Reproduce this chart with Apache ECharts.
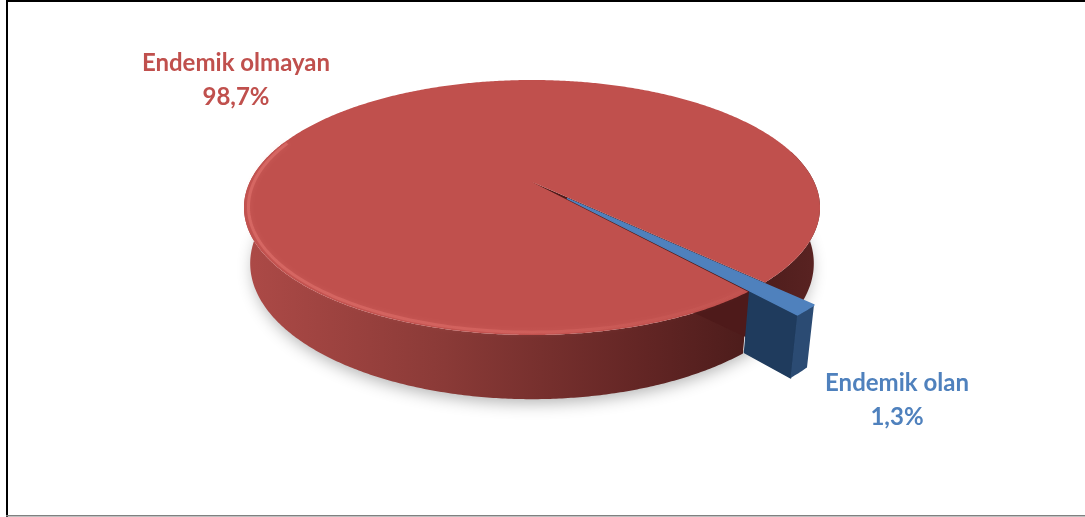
<!DOCTYPE html>
<html><head><meta charset="utf-8">
<script src="https://cdn.jsdelivr.net/npm/echarts@6/dist/echarts.min.js"></script>
<style>html,body{margin:0;padding:0;background:#fff}#c{width:1085px;height:517px}</style>
</head><body><div id="c"></div>
<script>
// ---- data ----
const categories = ['Endemik olan', 'Endemik olmayan'];
const values = [1.3, 98.7];
const topColors = ['#4f81bd', '#c0504d'];

// ---- 3D projection parameters (layout) ----
const G = {cx: 532, cy: 182, A: 282.2, B: 122.4, k: 0.2, h: 0.22, explode: [0.18, 0], start: 134.8};
const sA = G.B / G.A, cA = Math.sqrt(1 - sA * sA), Ld = cA / G.k;
function proj(x, y, z) {
  const dn = 1 - y * sA / Ld - z * G.k;
  return [G.cx + G.A * x / dn, G.cy + (G.B * z - G.A * cA * y) / dn];
}
function pt(deg, r, off, y) {
  const t = deg * Math.PI / 180;
  return proj(off[0] + r * Math.sin(t), y, off[1] - r * Math.cos(t));
}
const total = values.reduce((a, b) => a + b, 0);

const sideGrad = new echarts.graphic.LinearGradient(243, 0, 820, 0, [
  {offset: 0, color: '#ad4a47'}, {offset: 0.35, color: '#8a3a37'},
  {offset: 0.7, color: '#622524'}, {offset: 0.88, color: '#4c1c1b'}, {offset: 1, color: '#5a2322'}
], true);
const rimGrad = new echarts.graphic.LinearGradient(243, 0, 820, 0, [
  {offset: 0, color: 'rgba(228,118,113,0.55)'}, {offset: 0.45, color: 'rgba(226,112,107,0.45)'},
  {offset: 1, color: 'rgba(200,90,85,0.05)'}
], true);

// front-facing parts of the outer side, split into contiguous visible pieces
function bands(a, b, off, h, step) {
  const out = [];
  for (let base = -360; base <= 360; base += 360) {
    const lo = Math.max(a, 75 + base), hi = Math.min(b, 290 + base);
    if (hi <= lo) continue;
    const top = [], bot = [];
    for (let t = lo; t < hi; t += step) { top.push(pt(t, 1, off, 0)); bot.push(pt(t, 1, off, -h)); }
    top.push(pt(hi, 1, off, 0)); bot.push(pt(hi, 1, off, -h));
    out.push(top.concat(bot.reverse()));
  }
  return out;
}

function renderItem(params, api) {
  const i = params.dataIndex;
  let before = 0;
  for (let j = 0; j < i; j++) before += values[j];
  const a = G.start + before / total * 360;
  const b = a + api.value(0) / total * 360;
  const mid = (a + b) / 2;
  const e = G.explode[i];
  const off = [e * Math.sin(mid * Math.PI / 180), -e * Math.cos(mid * Math.PI / 180)];
  const h = G.h;
  const children = [];
  const step = 0.5;
  const arc = (r, y) => { const p = []; for (let t = a; t < b; t += step) p.push(pt(t, r, off, y)); p.push(pt(b, r, off, y)); return p; };

  const dark = i === 0;
  bands(a, b, off, h, step).forEach(p => children.push({type: 'polygon', z2: dark ? 6 : 1, silent: true,
    shape: {points: p}, style: {fill: dark ? '#2b4b73' : sideGrad}}));
  if (i === 1) {
    // soft shadow under pie
    const ring = []; for (let t = 0; t < 360; t += 2) ring.push(pt(t, 0.99, [0, 0], -h));
    children.push({type: 'polygon', z2: 0, silent: true, shape: {points: ring},
      style: {fill: '#fff', shadowBlur: 16, shadowColor: 'rgba(0,0,0,0.3)', shadowOffsetY: 6}});
    // end radial face, visible in the gap
    children.push({type: 'polygon', z2: 2, silent: true,
      shape: {points: [pt(b, 0, off, 0), pt(b, 1, off, 0), pt(b, 1, off, -h), pt(b, 0, off, -h)]},
      style: {fill: '#4e1a1a'}});
    // rim highlight on front edge (bevel)
    const hl = []; for (let t = 140; t <= 290; t += 1) hl.push(pt(t, 0.985, off, 0));
    children.push({type: 'polyline', z2: 4, silent: true, shape: {points: hl},
      style: {stroke: rimGrad, lineWidth: 3, fill: null, shadowBlur: 5, shadowColor: 'rgba(230,120,115,0.5)'}});
  } else {
    // visible end radial face of the exploded slice
    const phi = (b - mid) * Math.PI / 180;
    const t0 = -e * Math.cos(phi) + Math.sqrt(1 - e * e * Math.sin(phi) * Math.sin(phi));
    children.push({type: 'polygon', z2: 5, silent: true,
      shape: {points: [pt(b, t0, off, 0), pt(b, 1, off, 0), pt(b, 1, off, -h), pt(b, t0, off, -h)]},
      style: {fill: '#1f3b5d', stroke: '#1f3b5d', lineWidth: 1.5, lineJoin: 'round'}});
  }
  // top face
  const topPts = [pt(a, 0, off, 0)].concat(arc(1, 0));
  children.push({type: 'polygon', z2: dark ? 7 : 3, silent: true, shape: {points: topPts},
    style: {fill: topColors[i], stroke: dark ? '#4f81bd' : null, lineWidth: dark ? 1.5 : 0, lineJoin: 'round'}});
  return {type: 'group', children};
}

function fmt(v) { return v.toFixed(1).replace('.', ',') + '%'; }
const labelFont = {fontFamily: 'Lato', fontWeight: 'bold', fontSize: 24, lineHeight: 34, align: 'center', verticalAlign: 'middle'};

const chart = echarts.init(document.getElementById('c'), null, {renderer: 'canvas'});
chart.setOption({
  animation: false,
  backgroundColor: '#fff',
  series: [{type: 'custom', coordinateSystem: 'none', renderItem, data: values.map(v => [v]), silent: true}],
  graphic: [
    {type: 'text', x: 236, y: 80, style: Object.assign({text: categories[1] + '\n' + fmt(values[1]), fill: '#c0504d'}, labelFont)},
    {type: 'text', x: 897, y: 400, style: Object.assign({text: categories[0] + '\n' + fmt(values[0]), fill: '#4f81bd'}, labelFont)},
    {type: 'rect', shape: {x: 6, y: 0, width: 1079, height: 2}, style: {fill: '#000'}},
    {type: 'rect', shape: {x: 6, y: 0, width: 2, height: 517}, style: {fill: '#000'}},
    {type: 'rect', shape: {x: 6, y: 515, width: 1079, height: 1.5}, style: {fill: '#808080'}}
  ]
});
</script></body></html>
